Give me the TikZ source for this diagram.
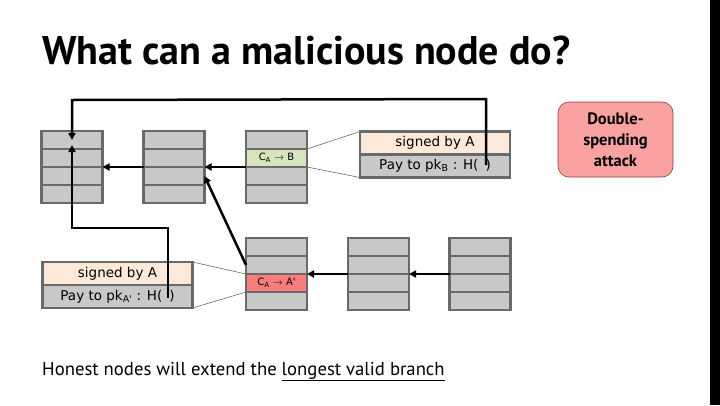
\documentclass[tikz,border=0pt]{standalone}
\usepackage{fontspec}
\setmainfont{PT Sans}
\newfontfamily\boxfont{DejaVu Sans}
\usetikzlibrary{arrows.meta}
\definecolor{blkfill}{RGB}{200,200,200}
\definecolor{blkline}{RGB}{105,105,105}
\definecolor{peach}{RGB}{253,233,217}
\definecolor{lgreen}{RGB}{215,228,189}
\definecolor{redrow}{RGB}{248,125,125}
\definecolor{pinkbox}{RGB}{250,162,162}
\definecolor{pinkline}{RGB}{150,60,60}
\tikzset{
  blk/.style={draw=blkline, line width=2.8pt, minimum width=61pt, minimum height=72pt, inner sep=0pt, outer sep=0pt},
  blkrow/.style={draw=blkline, fill=blkfill, line width=2.8pt, minimum width=61pt, minimum height=18pt, inner sep=0pt, outer sep=0pt, font=\boxfont\fontsize{10}{10}\selectfont},
  sigrow/.style={draw=blkline, line width=2.8pt, minimum width=150pt, minimum height=23pt, inner sep=0pt, outer sep=0pt, font=\boxfont\fontsize{13.5}{15}\selectfont},
  conn/.style={line width=2.5pt, black},
  tipconn/.style={conn, -{Triangle[length=7pt,width=7pt]}},
  zoomline/.style={line width=0.6pt, blkline},
}
\newcommand\chainblock[3]{%
  \node[blk] (#1) at (#2,#3) {};
  \node[blkrow] (#1r1) at (#2,#3-27) {};
  \node[blkrow] (#1r2) at (#2,#3-9) {};
  \node[blkrow] (#1r3) at (#2,#3+9) {};
  \node[blkrow] (#1r4) at (#2,#3+27) {};
}
\begin{document}
\begin{tikzpicture}[x=1pt,y=-1pt]
\useasboundingbox (0,0) rectangle (720,405);
\fill[white] (0,0) rectangle (720,405);
\fill[black] (710,0) rectangle (720,405);

% title
\node[anchor=base west, inner sep=0pt, font=\fontsize{40}{44}\selectfont\bfseries] (title) at (42,64) {What can a malicious node do?};

% blocks
\chainblock{b1}{72}{167}
\chainblock{b2}{174}{167}
\chainblock{b3}{276.5}{167}
\chainblock{b4}{276.5}{274}
\chainblock{b5}{378.5}{274}
\chainblock{b6}{480}{274}
\node[blkrow, fill=lgreen] (txB) at (276.5,158) {C\textsubscript{A} $\rightarrow$ B};
\node[blkrow, fill=redrow] (txA) at (276.5,283) {C\textsubscript{A} $\rightarrow$ A'};

% signed boxes
\node[sigrow, fill=peach] (sigB) at (435,143) {signed by A};
\node[sigrow, fill=blkfill] (payB) at (435,166) {Pay to pk\textsubscript{B} : H(\hspace{7pt})};
\node[sigrow, fill=peach] (sigA) at (117.5,273.5) {signed by A};
\node[sigrow, fill=blkfill] (payA) at (117.5,296.5) {Pay to pk\textsubscript{A'} : H(\hspace{7pt})};

% zoom lines
\draw[zoomline] (txB.north east) -- (sigB.north west);
\draw[zoomline] (txB.south east) -- (payB.south west);
\draw[zoomline] (sigA.north east) -- (txA.north west);
\draw[zoomline] (payA.south east) -- (txA.south west);

% chain arrows
\draw[tipconn] (b3.west) -- (b2.east);
\draw[tipconn] (b2.west) -- (b1.east);
\draw[tipconn] (b6.west) -- (b5.east);
\draw[tipconn] (b5.west) -- (b4.east);
\draw[tipconn] (b4r2.west) -- (b2r3.east);

% hash pointers
\coordinate (hB) at (486,165);
\coordinate (hBtop) at (486,99);
\coordinate (b1top) at (72,100);
\coordinate (b1in) at (72,140);
\draw[tipconn] (hB) -- (hBtop) -- (b1top) -- (b1in);
\coordinate (hA) at (168,298);
\coordinate (hAtop) at (168,228);
\coordinate (b1low) at (72,228);
\coordinate (b1in2) at (72,145);
\draw[tipconn] (hA) -- (hAtop) -- (b1low) -- (b1in2);

% double spending
\node[draw=pinkline, line width=0.6pt, fill=pinkbox, rounded corners=11pt, minimum width=115pt, minimum height=75pt, align=center, font=\fontsize{16.5}{21}\selectfont\bfseries] (ds) at (615.5,139.5) {Double-\\spending\\attack};

% bottom text
\node[anchor=base west, inner sep=0pt, font=\fontsize{18.7}{20}\selectfont] (honest) at (42,375) {Honest nodes will extend the \underline{longest valid branch}};
\end{tikzpicture}
\end{document}
